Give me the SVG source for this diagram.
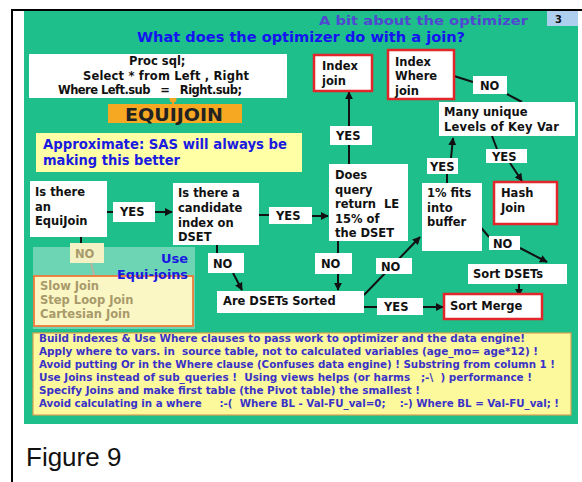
<svg xmlns="http://www.w3.org/2000/svg" width="582" height="482" viewBox="0 0 582 482">
<style>
.bg{fill:#1fbf8c}
.w{fill:#ffffff}
.r{fill:#ffffff;stroke:#e3262a;stroke-width:2.5}
.t{font-family:"DejaVu Sans",Verdana,sans-serif;font-weight:bold;font-size:11.5px;fill:#111}
.ln{stroke:#111;stroke-width:2;fill:none}
.bl{font-family:"DejaVu Sans",Verdana,sans-serif;font-weight:bold;font-size:10.5px;fill:#3a32c8}
.fade{font-family:"DejaVu Sans",Verdana,sans-serif;font-weight:bold;font-size:11.5px;fill:#a89a6a}
</style>
<defs>
<marker id="ah" viewBox="0 0 10 10" refX="9" refY="5" markerWidth="4" markerHeight="4" orient="auto">
<path d="M0,0 L10,5 L0,10 z" fill="#111"/>
</marker>
</defs>
<rect x="0" y="0" width="582" height="482" fill="#ffffff"/>
<rect x="24" y="11" width="554" height="413" class="bg"/>
<line x1="11" y1="10" x2="582" y2="10" stroke="#000" stroke-width="2"/>
<line x1="12" y1="10" x2="12" y2="482" stroke="#000" stroke-width="2"/>

<g id="slide-number">
<rect x="547" y="11" width="31" height="15" fill="#aed0ee"/>
<text x="555" y="23" font-family="DejaVu Sans,sans-serif" font-weight="bold" font-size="10" fill="#111">3</text>
</g>
<g id="titles">
<text x="319" y="25" font-family="DejaVu Sans,sans-serif" font-weight="bold" font-size="13" fill="#5048d0" textLength="209" lengthAdjust="spacingAndGlyphs">A bit about the optimizer</text>
<text x="137" y="42" font-family="DejaVu Sans,sans-serif" font-weight="bold" font-size="14.5" fill="#1414f0" textLength="328" lengthAdjust="spacingAndGlyphs">What does the optimizer do with a join?</text>
</g>

<g id="connectors">
<line x1="173" y1="98" x2="173" y2="104" stroke="#f5a623" stroke-width="2"/>
<circle cx="173" cy="99" r="3.5" fill="#f5a623"/>
<line class="ln" x1="107" y1="212" x2="113" y2="212"/>
<line class="ln" x1="155" y1="212" x2="172" y2="212" marker-end="url(#ah)"/>
<line class="ln" x1="259" y1="215" x2="269" y2="215"/>
<line class="ln" x1="312" y1="216" x2="328" y2="216" marker-end="url(#ah)"/>
<line class="ln" x1="349" y1="164" x2="349" y2="145"/>
<line class="ln" x1="349" y1="126" x2="349" y2="92" marker-end="url(#ah)"/>
<line class="ln" x1="81" y1="237" x2="81" y2="243"/>
<line x1="91" y1="263" x2="95" y2="279" stroke="#8a8a6a" stroke-width="2"/>
<line class="ln" x1="217" y1="245" x2="217" y2="253"/>
<line class="ln" x1="233" y1="273" x2="242" y2="290" marker-end="url(#ah)"/>
<line class="ln" x1="338" y1="241" x2="338" y2="253"/>
<line class="ln" x1="338" y1="274" x2="338" y2="290" marker-end="url(#ah)"/>
<line class="ln" x1="364" y1="295" x2="420" y2="237" marker-end="url(#ah)"/>
<line class="ln" x1="364" y1="307" x2="377" y2="307"/>
<line class="ln" x1="423" y1="307" x2="443" y2="307" marker-end="url(#ah)"/>
<line class="ln" x1="447" y1="183" x2="447" y2="172"/>
<line class="ln" x1="451" y1="158" x2="453" y2="138" marker-end="url(#ah)"/>
<line class="ln" x1="492" y1="136" x2="497" y2="149"/>
<line class="ln" x1="510" y1="163" x2="522" y2="181" marker-end="url(#ah)"/>
<line class="ln" x1="454" y1="76" x2="473" y2="82"/>
<line class="ln" x1="507" y1="94" x2="522" y2="102"/>
<line class="ln" x1="472" y1="217" x2="489" y2="237"/>
<line class="ln" x1="520" y1="248" x2="547" y2="262" marker-end="url(#ah)"/>
<line class="ln" x1="519" y1="284" x2="519" y2="296" marker-end="url(#ah)"/>
</g>

<g id="proc-sql">
<rect x="29" y="54" width="258" height="44" class="w"/>
<text class="t" font-size="12" x="129" y="65">Proc sql;</text>
<text class="t" font-size="12" x="83" y="80" textLength="166">Select * from Left , Right</text>
<text class="t" font-size="12" x="58" y="94" textLength="184" xml:space="preserve">Where Left.sub   =   Right.sub;</text>
</g>
<g id="equijoin">
<rect x="108" y="104" width="134" height="19" fill="#f7a823"/>
<text x="125" y="121" font-family="DejaVu Sans,sans-serif" font-weight="bold" font-size="17" fill="#222" textLength="98" lengthAdjust="spacingAndGlyphs">EQUIJOIN</text>
</g>
<g id="approximate">
<rect x="36" y="133" width="266" height="39" fill="#ffffa6"/>
<text x="43" y="149" font-family="DejaVu Sans,sans-serif" font-weight="bold" font-size="13.5" fill="#1a1ae0" textLength="244" lengthAdjust="spacingAndGlyphs">Approximate: SAS will always be</text>
<text x="43" y="165" font-family="DejaVu Sans,sans-serif" font-weight="bold" font-size="13.5" fill="#1a1ae0" textLength="137" lengthAdjust="spacingAndGlyphs">making this better</text>
</g>

<g id="equijoin-q">
<rect x="30" y="181" width="77" height="56" class="w"/>
<text class="t" x="35" y="196">Is there</text>
<text class="t" x="35" y="211">an</text>
<text class="t" x="35" y="225">EquiJoin</text>
</g>
<g id="yes1"><rect x="113" y="202" width="42" height="20" class="w"/><text class="t" x="120" y="216">YES</text></g>
<g id="candidate-q">
<rect x="173" y="183" width="86" height="62" class="w"/>
<text class="t" x="178" y="197">Is there a</text>
<text class="t" x="178" y="212">candidate</text>
<text class="t" x="178" y="227">index on</text>
<text class="t" x="178" y="241">DSET</text>
</g>
<g id="yes2"><rect x="269" y="207" width="43" height="17" class="w"/><text class="t" x="276" y="220">YES</text></g>
<g id="does-query">
<rect x="329" y="164" width="79" height="77" class="w"/>
<text class="t" x="335" y="179">Does</text>
<text class="t" x="335" y="194">query</text>
<text class="t" x="335" y="208" xml:space="preserve">return  LE</text>
<text class="t" x="335" y="223">15% of</text>
<text class="t" x="335" y="237">the DSET</text>
</g>
<g id="yes3"><rect x="330" y="126" width="42" height="19" class="w"/><text class="t" x="336" y="140">YES</text></g>
<g id="index-join">
<rect x="314" y="55" width="58" height="36" class="r"/>
<text class="t" x="322" y="70">Index</text>
<text class="t" x="322" y="85">join</text>
</g>
<g id="index-where-join">
<rect x="388" y="50" width="66" height="49" class="r"/>
<text class="t" x="395" y="66">Index</text>
<text class="t" x="395" y="80">Where</text>
<text class="t" x="395" y="95">join</text>
</g>
<g id="no-top"><rect x="473" y="76" width="34" height="18" class="w"/><text class="t" x="480" y="90">NO</text></g>
<g id="many-unique">
<rect x="439" y="102" width="136" height="34" class="w"/>
<text class="t" x="444" y="116">Many unique</text>
<text class="t" x="444" y="131" textLength="115">Levels of Key Var</text>
</g>
<g id="yes4"><rect x="427" y="158" width="31" height="16" class="w"/><text class="t" x="430" y="171">YES</text></g>
<g id="yes5"><rect x="486" y="149" width="41" height="14" class="w"/><text class="t" x="492" y="161">YES</text></g>
<g id="fits-buffer">
<rect x="422" y="183" width="60" height="68" class="w"/>
<text class="t" x="427" y="197">1% fits</text>
<text class="t" x="427" y="212">into</text>
<text class="t" x="427" y="226">buffer</text>
</g>
<g id="hash-join">
<rect x="494" y="182" width="63" height="42" class="r"/>
<text class="t" x="501" y="197">Hash</text>
<text class="t" x="501" y="212">Join</text>
</g>
<g id="no-right"><rect x="489" y="236" width="31" height="14" class="w"/><text class="t" x="493" y="248">NO</text></g>
<g id="sort-dsets">
<rect x="468" y="264" width="99" height="20" class="w"/>
<text class="t" x="473" y="278">Sort DSETs</text>
</g>
<g id="no-cand"><rect x="208" y="253" width="36" height="20" class="w"/><text class="t" x="213" y="268">NO</text></g>
<g id="no-does"><rect x="315" y="253" width="37" height="21" class="w"/><text class="t" x="321" y="268">NO</text></g>
<g id="no-mid"><rect x="376" y="258" width="36" height="16" class="w"/><text class="t" x="381" y="271">NO</text></g>
<g id="are-sorted">
<rect x="217" y="291" width="147" height="22" class="w"/>
<text class="t" x="223" y="305">Are DSETs Sorted</text>
</g>
<g id="yes6"><rect x="377" y="298" width="46" height="17" class="w"/><text class="t" x="384" y="311">YES</text></g>
<g id="sort-merge">
<rect x="444" y="294" width="98" height="25" class="r"/>
<text class="t" x="450" y="310">Sort Merge</text>
</g>

<g id="slow-joins">
<rect x="33" y="247" width="162" height="82" fill="#ffffff" fill-opacity="0.35"/>
<rect x="34" y="276" width="159" height="50" fill="#fbf7c4" stroke="#ee7a3a" stroke-width="1.8"/>
<text class="fade" x="40" y="290">Slow Join</text>
<text class="fade" x="40" y="304">Step Loop Join</text>
<text class="fade" x="40" y="318">Cartesian Join</text>
<text x="188" y="263" text-anchor="end" font-family="DejaVu Sans,sans-serif" font-weight="bold" font-size="13" fill="#1a1ae0">Use</text>
<text x="117" y="279" font-family="DejaVu Sans,sans-serif" font-weight="bold" font-size="13" fill="#1a1ae0" textLength="71" lengthAdjust="spacingAndGlyphs">Equi-joins</text>
</g>
<g id="no-left"><rect x="70" y="243" width="34" height="20" fill="#f4f2c4"/><text class="fade" x="75" y="258">NO</text></g>

<g id="tips">
<rect x="33" y="333" width="538" height="82" fill="#fcf89c" stroke="#d8a050" stroke-width="1.2"/>
<text class="bl" x="39" y="342" textLength="486" lengthAdjust="spacingAndGlyphs">Build indexes &amp; Use Where clauses to pass work to optimizer and the data engine!</text>
<text class="bl" x="39" y="355" textLength="499" lengthAdjust="spacingAndGlyphs" xml:space="preserve">Apply where to vars. in  source table, not to calculated variables (age_mo= age*12) !</text>
<text class="bl" x="39" y="368" textLength="516" lengthAdjust="spacingAndGlyphs">Avoid putting Or in the Where clause (Confuses data engine) ! Substring from column 1 !</text>
<text class="bl" x="39" y="381" textLength="493" lengthAdjust="spacingAndGlyphs" xml:space="preserve">Use Joins instead of sub_queries !  Using views helps (or harms   ;-\  ) performance !</text>
<text class="bl" x="39" y="394" textLength="381" lengthAdjust="spacingAndGlyphs">Specify Joins and make first table (the Pivot table) the smallest !</text>
<text class="bl" x="39" y="407" textLength="520" lengthAdjust="spacingAndGlyphs" xml:space="preserve">Avoid calculating in a where     :-(  Where BL - Val-FU_val=0;    :-) Where BL = Val-FU_val; !</text>
</g>
<text x="26" y="466" font-family="Liberation Sans,Arial,sans-serif" font-size="26" fill="#111">Figure 9</text>
</svg>
